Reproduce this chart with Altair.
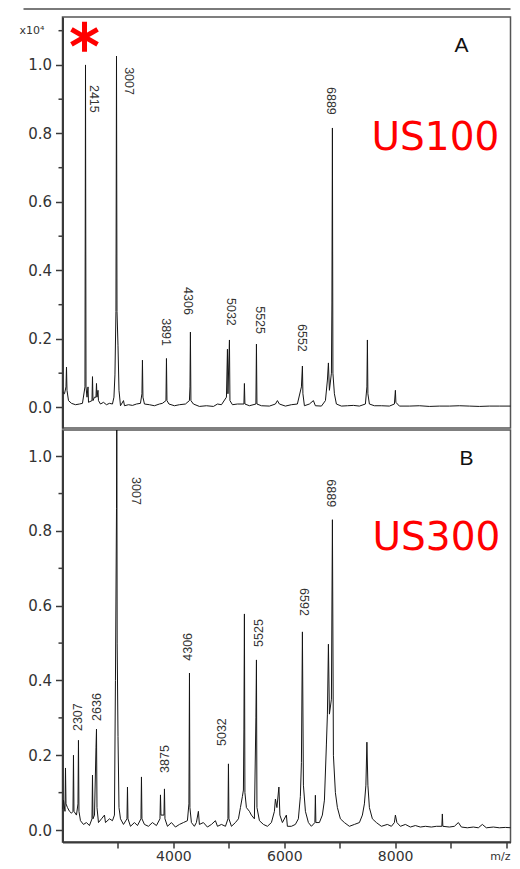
import altair as alt
import pandas as pd

# ---------------- data ----------------
MZ_DOMAIN = [2000, 10080]
A_Y_DOMAIN = [-0.06, 1.14]
B_Y_DOMAIN = [-0.032, 1.07]

# Panel A (US100) spectrum trace
A_MZ = [2000, 2036, 2063, 2072, 2081, 2108, 2162, 2234, 2306, 2360, 2405, 2415, 2424, 2442, 2460,
        2469, 2532, 2541, 2550, 2577, 2604, 2613, 2622, 2640, 2649, 2685, 2739, 2793, 2847, 2901,
        2928, 2946, 2964, 2974, 2983, 3001, 3019, 3046, 3100, 3118, 3190, 3262, 3334, 3406, 3433,
        3442, 3451, 3478, 3568, 3658, 3748, 3802, 3866, 3875, 3884, 3920, 4019, 4109, 4217, 4289,
        4299, 4307, 4316, 4361, 4469, 4596, 4722, 4795, 4867, 4957, 4975, 4984, 5011, 5020, 5065,
        5155, 5272, 5281, 5290, 5371, 5488, 5498, 5507, 5588, 5732, 5840, 5876, 5912, 6020, 6128,
        6236, 6309, 6327, 6336, 6363, 6453, 6525, 6561, 6670, 6742, 6778, 6796, 6814, 6850, 6859,
        6868, 6877, 6904, 6940, 7030, 7139, 7247, 7355, 7463, 7490, 7499, 7508, 7535, 7625, 7751,
        7896, 7986, 8004, 8013, 8076, 8256, 8437, 8617, 8797, 8978, 9158, 9338, 9519, 9699, 9879,
        10095]
A_INT = [0.045, 0.04, 0.06, 0.118, 0.05, 0.02, 0.012, 0.008, 0.01, 0.012, 0.06, 1.0, 0.06, 0.03, 0.06,
         0.015, 0.02, 0.09, 0.02, 0.03, 0.03, 0.07, 0.03, 0.05, 0.02, 0.01, 0.015, 0.008, 0.012, 0.01,
         0.03, 0.095, 0.28, 1.026, 0.28, 0.18, 0.05, 0.005, 0.02, 0.005, 0.008, 0.006, 0.01, 0.012, 0.04,
         0.138, 0.03, 0.01, 0.008, 0.005, 0.01, 0.012, 0.02, 0.143, 0.02, 0.01, 0.005, 0.008, 0.01, 0.02,
         0.06, 0.22, 0.02, 0.01, 0.003, 0.005, 0.003, 0.01, 0.008, 0.03, 0.17, 0.04, 0.197, 0.02, 0.008,
         0.01, 0.01, 0.07, 0.01, 0.005, 0.01, 0.185, 0.01, 0.005, 0.004, 0.01, 0.02, 0.01, 0.004, 0.008,
         0.01, 0.06, 0.121, 0.04, 0.005, 0.01, 0.02, 0.005, 0.004, 0.02, 0.08, 0.13, 0.05, 0.1, 0.305,
         0.816, 0.1, 0.04, 0.01, 0.004, 0.005, 0.006, 0.004, 0.01, 0.06, 0.197, 0.04, 0.01, 0.005, 0.005,
         0.004, 0.01, 0.05, 0.015, 0.004, 0.004, 0.005, 0.003, 0.004, 0.004, 0.005, 0.004, 0.003, 0.004, 0.004,
         0.004]

# Panel B (US300) spectrum trace
B_MZ = [2000, 2018, 2045, 2054, 2063, 2090, 2126, 2162, 2189, 2198, 2207, 2252, 2279, 2288, 2297,
        2324, 2378, 2432, 2486, 2532, 2541, 2550, 2577, 2604, 2613, 2622, 2649, 2703, 2757, 2775,
        2847, 2901, 2937, 2955, 2974, 2979, 2986, 3001, 3019, 3046, 3100, 3163, 3172, 3181, 3226,
        3298, 3352, 3415, 3424, 3433, 3478, 3550, 3622, 3694, 3758, 3767, 3776, 3830, 3839, 3848,
        3893, 3965, 4037, 4109, 4181, 4253, 4280, 4290, 4298, 4325, 4379, 4415, 4451, 4469, 4541,
        4614, 4686, 4758, 4795, 4867, 4939, 4984, 4993, 5002, 5047, 5119, 5173, 5209, 5245, 5263,
        5272, 5281, 5290, 5317, 5371, 5407, 5461, 5488, 5498, 5507, 5552, 5624, 5696, 5768, 5822,
        5840, 5867, 5903, 5921, 5966, 6038, 6056, 6128, 6200, 6254, 6290, 6309, 6327, 6345, 6381,
        6435, 6489, 6552, 6561, 6570, 6633, 6687, 6724, 6760, 6778, 6796, 6814, 6850, 6868, 6886,
        6922, 6958, 7012, 7084, 7174, 7265, 7355, 7409, 7445, 7472, 7490, 7508, 7535, 7589, 7661,
        7751, 7859, 7932, 7986, 8004, 8031, 8094, 8184, 8274, 8364, 8454, 8545, 8653, 8743, 8842,
        8851, 8860, 8978, 9068, 9140, 9194, 9302, 9410, 9500, 9572, 9644, 9771, 9879, 9987, 10095]
B_INT = [0.056, 0.08, 0.05, 0.166, 0.07, 0.06, 0.05, 0.045, 0.05, 0.2, 0.05, 0.04, 0.07, 0.24, 0.05,
         0.025, 0.015, 0.02, 0.012, 0.03, 0.147, 0.03, 0.04, 0.22, 0.27, 0.06, 0.02, 0.03, 0.04, 0.02,
         0.03, 0.025, 0.04, 0.4, 0.86, 1.2, 0.5, 0.25, 0.06, 0.03, 0.015, 0.03, 0.115, 0.03, 0.01,
         0.02, 0.012, 0.03, 0.142, 0.03, 0.015, 0.01, 0.02, 0.012, 0.03, 0.094, 0.04, 0.04, 0.11, 0.03,
         0.01, 0.02, 0.008, 0.015, 0.02, 0.025, 0.07, 0.42, 0.06, 0.02, 0.01, 0.02, 0.05, 0.015, 0.02,
         0.008, 0.015, 0.025, 0.01, 0.015, 0.01, 0.03, 0.177, 0.03, 0.01, 0.02, 0.03, 0.06, 0.09, 0.107,
         0.27, 0.578, 0.1, 0.06, 0.05, 0.04, 0.03, 0.3, 0.455, 0.06, 0.025, 0.015, 0.01, 0.02, 0.05,
         0.083, 0.06, 0.115, 0.04, 0.02, 0.04, 0.01, 0.01, 0.015, 0.03, 0.09, 0.18, 0.53, 0.12, 0.05,
         0.02, 0.01, 0.02, 0.093, 0.02, 0.02, 0.04, 0.08, 0.23, 0.31, 0.497, 0.31, 0.35, 0.83, 0.2,
         0.1, 0.06, 0.03, 0.02, 0.01, 0.015, 0.02, 0.04, 0.07, 0.12, 0.235, 0.12, 0.06, 0.03, 0.02,
         0.01, 0.015, 0.01, 0.02, 0.04, 0.02, 0.01, 0.015, 0.008, 0.012, 0.008, 0.01, 0.008, 0.01, 0.01,
         0.043, 0.01, 0.008, 0.01, 0.02, 0.008, 0.006, 0.008, 0.006, 0.015, 0.006, 0.008, 0.006, 0.007, 0.006]

# peak annotations (text, position of label centre, rotation)
A_PEAK_TEXT = ["2415", "3007", "3891", "4306", "5032", "5525", "6552", "6889"]
A_PEAK_MZ = [2577, 3208, 3875, 4272, 5047, 5570, 6327, 6850]
A_PEAK_Y = [0.901, 0.953, 0.220, 0.311, 0.279, 0.255, 0.203, 0.895]
A_PEAK_ANGLE = [90, 90, 90, 90, 90, 90, 90, 90]

B_PEAK_TEXT = ["2307", "2636", "3007", "3875", "4306", "5032", "5525", "6592", "6889"]
B_PEAK_MZ = [2288, 2631, 3334, 3857, 4272, 4885, 5552, 6363, 6850]
B_PEAK_Y = [0.302, 0.329, 0.907, 0.190, 0.490, 0.262, 0.527, 0.610, 0.901]
B_PEAK_ANGLE = [270, 270, 90, 270, 270, 270, 270, 90, 90]

# panel tags and sample names
A_TAG = ("A", 9194, 1.038)
B_TAG = ("B", 9285, 0.976)
A_SAMPLE = ("US100", 8726, 0.752)
B_SAMPLE = ("US300", 8744, 0.749)
STAR = (2397, 1.082)
EXP_LABEL = ("x10\u2074", 1.1)
X_TITLE = ("m/z", 10080)

MAJOR_TICKS = [0.0, 0.2, 0.4, 0.6, 0.8, 1.0]
A_MINOR = [0.1, 0.3, 0.5, 0.7, 0.9, 1.1]
B_MINOR = [0.1, 0.3, 0.5, 0.7, 0.9]
X_TICKS = [3000, 4000, 5000, 6000, 7000, 8000, 9000, 10000]

AXIS_COLOR = "#3a3a3a"
STAR_PATH = "M0,-1L0,1M-0.87,-0.5L0.87,0.5M-0.87,0.5L0.87,-0.5"
PLOT_W = 448


def panel(mz, inten, ptext, pmz, py, pang, tag, sample, ydomain, minor, height, xaxis, top_extra):
    spec = pd.DataFrame({"mz": mz, "v": inten})
    labels = pd.DataFrame({"mz": pmz, "v": py, "t": ptext, "ang": pang})
    tag_df = pd.DataFrame({"mz": [tag[1]], "v": [tag[2]], "t": [tag[0]]})
    samp_df = pd.DataFrame({"mz": [sample[1]], "v": [sample[2]], "t": [sample[0]]})
    minor_df = pd.DataFrame({"v": minor})

    yaxis = alt.Axis(values=MAJOR_TICKS, format=".1f", title=None, grid=False,
                     labelFont="DejaVu Sans", labelFontSize=15, labelColor="#333",
                     domainColor=AXIS_COLOR, domainWidth=2, tickColor=AXIS_COLOR,
                     tickWidth=1.5, tickSize=7, labelPadding=4,
                     minExtent=50, maxExtent=50)
    xenc = alt.X("mz:Q", scale=alt.Scale(domain=MZ_DOMAIN, nice=False, zero=False), axis=xaxis)
    line = alt.Chart(spec).mark_line(color="#151515", strokeWidth=1, clip=True).encode(
        x=xenc,
        y=alt.Y("v:Q", scale=alt.Scale(domain=ydomain, nice=False, zero=False), axis=yaxis),
    )
    minor_ticks = alt.Chart(minor_df).mark_rule(color=AXIS_COLOR, strokeWidth=1.5).encode(
        y="v:Q", x=alt.value(-4), x2=alt.value(0))
    peak_labels = alt.Chart(labels).mark_text(
        font="Liberation Sans Narrow, Liberation Sans", fontSize=12.5, color="#333",
        align="center", baseline="middle").encode(
        x="mz:Q", y="v:Q", text="t:N", angle=alt.Angle("ang:Q", scale=None))
    tag_txt = alt.Chart(tag_df).mark_text(font="Liberation Sans", fontSize=21, color="#111",
                                          align="center", baseline="alphabetic").encode(
        x="mz:Q", y="v:Q", text="t:N")
    samp_txt = alt.Chart(samp_df).mark_text(font="DejaVu Sans", fontSize=39, color="#ff0000",
                                            align="center", baseline="alphabetic").encode(
        x="mz:Q", y="v:Q", text="t:N")
    layers = [line, minor_ticks, peak_labels, tag_txt, samp_txt] + top_extra
    return alt.layer(*layers).properties(width=PLOT_W, height=height)


one = pd.DataFrame({"k": [0]})
top_rule = alt.Chart(one).mark_rule(color="#7a7a7a", strokeWidth=2).encode(
    x=alt.value(-39), x2=alt.value(PLOT_W), y=alt.value(-8))
star = alt.Chart(pd.DataFrame({"mz": [STAR[0]], "v": [STAR[1]]})).mark_point(
    shape=STAR_PATH, size=900, filled=False, stroke="#ff0000", strokeWidth=5, opacity=1).encode(
    x="mz:Q", y="v:Q")
exp_txt = alt.Chart(pd.DataFrame({"v": [EXP_LABEL[1]], "t": [EXP_LABEL[0]]})).mark_text(
    font="DejaVu Sans", fontSize=11, color="#333", align="right", baseline="middle").encode(
    x=alt.value(-18), y="v:Q", text="t:N")
mz_title = alt.Chart(pd.DataFrame({"mz": [X_TITLE[1]], "t": [X_TITLE[0]]})).mark_text(
    font="DejaVu Sans", fontSize=11, color="#333", align="right",
    baseline="bottom").encode(x="mz:Q", y=alt.value(432), text="t:N")

xaxis_b = alt.Axis(values=X_TICKS, format="d", grid=False, title=None,
                   labelExpr="(datum.value == 4000 || datum.value == 6000 || datum.value == 8000) ? datum.label : ''",
                   labelFont="DejaVu Sans", labelFontSize=14, labelColor="#333", labelPadding=1,
                   domainColor=AXIS_COLOR, domainWidth=2, tickColor=AXIS_COLOR, tickWidth=1.5, tickSize=6)

panel_a = panel(A_MZ, A_INT, A_PEAK_TEXT, A_PEAK_MZ, A_PEAK_Y, A_PEAK_ANGLE, A_TAG, A_SAMPLE,
                A_Y_DOMAIN, A_MINOR, 411, None, [top_rule, star, exp_txt])
panel_b = panel(B_MZ, B_INT, B_PEAK_TEXT, B_PEAK_MZ, B_PEAK_Y, B_PEAK_ANGLE, B_TAG, B_SAMPLE,
                B_Y_DOMAIN, B_MINOR, 412, xaxis_b, [mz_title])

chart = alt.vconcat(panel_a, panel_b, spacing=0).properties(
    padding={"left": 3.5, "top": -1, "right": -0.5, "bottom": -2},
    background="white",
).configure_view(stroke="#555555", strokeWidth=1.5)

chart.save("out.html", embed_options={"renderer": "svg", "actions": False})
